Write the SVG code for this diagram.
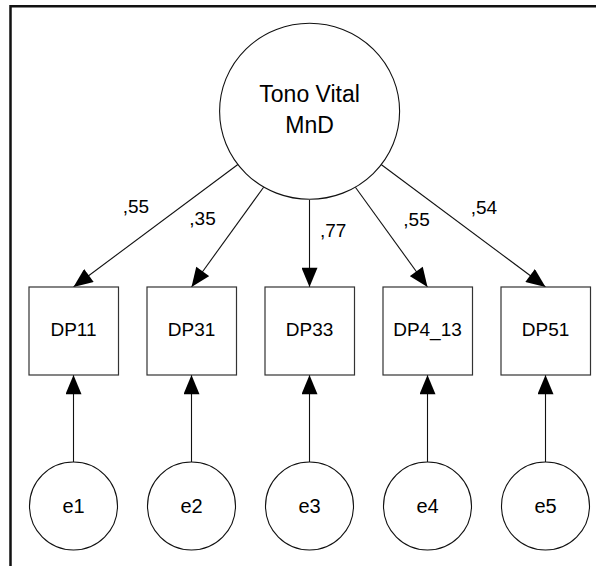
<svg xmlns="http://www.w3.org/2000/svg" width="596" height="566" viewBox="0 0 596 566">
<defs>
<marker id="ah" markerUnits="userSpaceOnUse" markerWidth="20" markerHeight="16" viewBox="0 0 18 15" refX="18" refY="7.5" orient="auto">
<path d="M0,0 L18,7.5 L0,15 Z" fill="#000"/>
</marker>
<style>
text{font-family:"Liberation Sans",Arial,sans-serif;fill:#000}
.lat{fill:#fff;stroke:#111;stroke-width:1.1}
.box{fill:#fff;stroke:#333;stroke-width:1.2}
.lbl{font-size:19px;text-anchor:middle}
.el{font-size:20px;text-anchor:middle}
.big{font-size:23px;text-anchor:middle}
.w{font-size:19px}
.edge{stroke:#111;stroke-width:1.1;fill:none;marker-end:url(#ah)}
</style>
</defs>
<rect width="596" height="566" fill="#fff"/>
<path d="M10.5,566 V6.2 H596" fill="none" stroke="#111" stroke-width="2.5"/>
<g id="connectors">
<line class="edge" x1="238.2" y1="164.2" x2="73.5" y2="287"/>
<line class="edge" x1="263.6" y1="187.2" x2="191.5" y2="287"/>
<line class="edge" x1="309.5" y1="200" x2="309.5" y2="287"/>
<line class="edge" x1="355.4" y1="187.2" x2="427.5" y2="287"/>
<line class="edge" x1="380.8" y1="164.2" x2="545.5" y2="287"/>
<line class="edge" x1="73.5" y1="462" x2="73.5" y2="375"/>
<line class="edge" x1="191.5" y1="462" x2="191.5" y2="375"/>
<line class="edge" x1="309.5" y1="462" x2="309.5" y2="375"/>
<line class="edge" x1="427.5" y1="462" x2="427.5" y2="375"/>
<line class="edge" x1="545.5" y1="462" x2="545.5" y2="375"/>
</g>
<g id="labels">
<text class="w" x="122.7" y="213.3">,55</text>
<text class="w" x="189.3" y="225">,35</text>
<text class="w" x="320" y="236.7">,77</text>
<text class="w" x="403.3" y="225.7">,55</text>
<text class="w" x="470.7" y="214">,54</text>
</g>
<g id="TonoVital">
<ellipse class="lat" cx="309.6" cy="111.3" rx="90" ry="88"/>
<text class="big" x="309.6" y="102.3">Tono Vital</text>
<text class="big" x="309.6" y="132.7">MnD</text>
</g>
<g id="DP11"><rect class="box" x="29" y="287" width="89.5" height="88"/><text class="lbl" x="73.5" y="336">DP11</text></g>
<g id="DP31"><rect class="box" x="147" y="287" width="89.5" height="88"/><text class="lbl" x="191.5" y="336">DP31</text></g>
<g id="DP33"><rect class="box" x="265" y="287" width="89.5" height="88"/><text class="lbl" x="309.5" y="336">DP33</text></g>
<g id="DP4_13"><rect class="box" x="383" y="287" width="89.5" height="88"/><text class="lbl" x="427.5" y="336">DP4_13</text></g>
<g id="DP51"><rect class="box" x="501" y="287" width="89.5" height="88"/><text class="lbl" x="545.5" y="336">DP51</text></g>
<g id="e1"><circle class="lat" cx="73.5" cy="506" r="44"/><text class="el" x="73.5" y="512.5">e1</text></g>
<g id="e2"><circle class="lat" cx="191.5" cy="506" r="44"/><text class="el" x="191.5" y="512.5">e2</text></g>
<g id="e3"><circle class="lat" cx="309.5" cy="506" r="44"/><text class="el" x="309.5" y="512.5">e3</text></g>
<g id="e4"><circle class="lat" cx="427.5" cy="506" r="44"/><text class="el" x="427.5" y="512.5">e4</text></g>
<g id="e5"><circle class="lat" cx="545.5" cy="506" r="44"/><text class="el" x="545.5" y="512.5">e5</text></g>
</svg>
